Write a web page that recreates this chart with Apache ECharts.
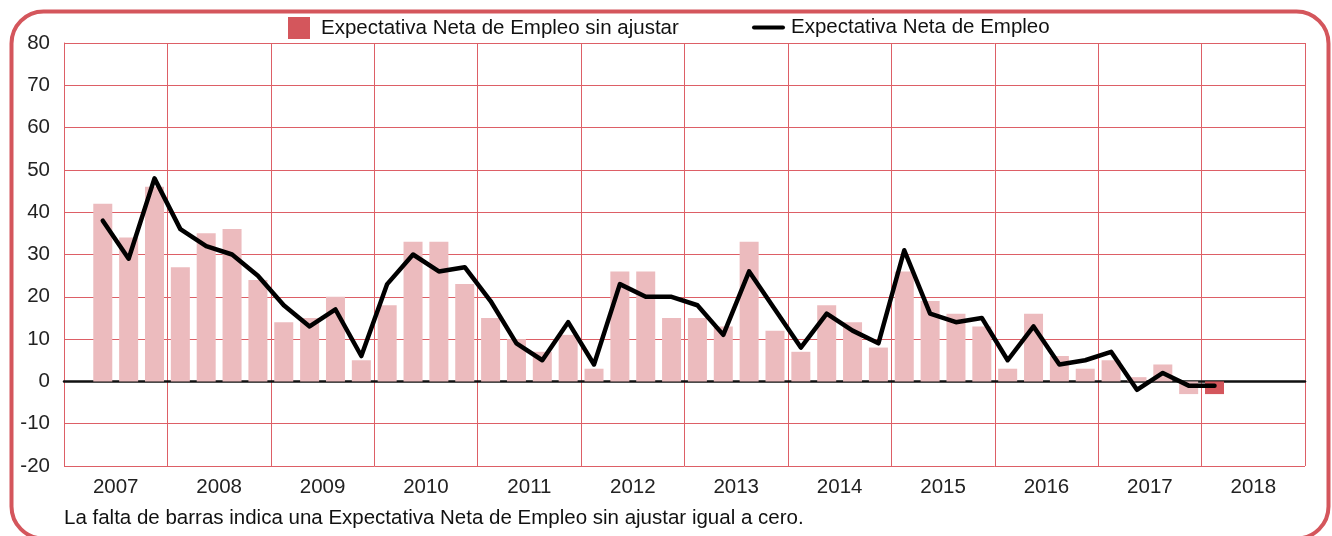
<!DOCTYPE html>
<html>
<head>
<meta charset="utf-8">
<script src="https://cdn.jsdelivr.net/npm/echarts@6/dist/echarts.min.js"></script>
<style>
  html, body { margin: 0; padding: 0; background: #fff; }
  #chart { width: 1332px; height: 536px; }
</style>
</head>
<body>
<div id="chart"></div>
<script>
// años del eje x
const years = ['2007', '2008', '2009', '2010', '2011', '2012', '2013', '2014', '2015', '2016', '2017', '2018']
// valores por trimestre (2007 T1 ... 2018 T4), null = sin dato
const sinAjustar = [
  null, 42, 34, 46,
  27, 35, 36, 24,
  14, 15, 20, 5,
  18, 33, 33, 23,
  15, 10, 7, 11,
  3, 26, 26, 15,
  15, 13, 33, 12,
  7, 18, 14, 8,
  26, 19, 16, 13,
  3, 16, 6, 3,
  5, 1, 4, -3,
  -3, null, null, null
]
const ajustada = [
  null, 38, 29, 48,
  36, 32, 30, 25,
  18, 13, 17, 6,
  23, 30, 26, 27,
  19, 9, 5, 14,
  4, 23, 20, 20,
  18, 11, 26, 17,
  8, 16, 12, 9,
  31, 16, 14, 15,
  5, 13, 4, 5,
  7, -2, 2, -1,
  -1, null, null, null
]
// etiquetas del eje y
const yTicks = [-20, -10, 0, 10, 20, 30, 40, 50, 60, 70, 80]

const quarters = []
years.forEach((y) => {
  for (let q = 1; q <= 4; q++) quarters.push(y + 'T' + q)
})

const RED = '#d4565c'
const PINK = '#ecbbbe'
const GRID = '#dd5f66'
const FONT = '"Liberation Sans", Arial, sans-serif'
const FS = 20.5

// último dato disponible resaltado en rojo
let lastIdx = 0
sinAjustar.forEach((v, i) => { if (v !== null) lastIdx = i })
const barData = sinAjustar.map((v, i) => {
  if (v === null) return '-'
  return { value: v, itemStyle: { color: i === lastIdx ? RED : PINK } }
})

const chart = echarts.init(document.getElementById('chart'))
const options = {
  animation: false,
  textStyle: { fontFamily: FONT },
  legend: [
    {
      left: 288,
      top: 17,
      padding: 0,
      itemWidth: 22,
      itemHeight: 22,
      itemGap: 10,
      selectedMode: false,
      icon: 'rect',
      textStyle: { fontSize: FS, color: '#111', fontFamily: FONT, padding: [0, 0, 0, 6] },
      data: ['Expectativa Neta de Empleo sin ajustar']
    },
    {
      left: 752,
      top: 17,
      padding: 0,
      itemWidth: 33,
      itemHeight: 22,
      selectedMode: false,
      textStyle: { fontSize: FS, color: '#111', fontFamily: FONT, padding: [0, 0, 0, 1] },
      // icono de línea gruesa sin marcador
      data: [{ name: 'Expectativa Neta de Empleo', icon: 'path://M2,9 L31,9 A2,2 0 0 1 31,13 L2,13 A2,2 0 0 1 2,9 Z' }],
      symbolKeepAspect: true
    }
  ],
  grid: {
    left: 64,
    right: 27,
    top: 43,
    bottom: 70,
    containLabel: false,
    outerBoundsMode: 'none'
  },
  xAxis: [
    {
      type: 'category',
      data: quarters,
      position: 'bottom',
      boundaryGap: true,
      axisLine: { show: true, onZero: true, lineStyle: { color: '#111', width: 2.5 } },
      axisTick: { show: false },
      axisLabel: { show: false },
      splitLine: { show: false }
    },
    {
      type: 'category',
      data: years,
      position: 'bottom',
      boundaryGap: true,
      axisLine: { show: false, onZero: false },
      axisTick: { show: false },
      axisLabel: { show: true, color: '#222', fontSize: FS, margin: 11, fontFamily: FONT },
      splitLine: { show: true, showMinLine: true, showMaxLine: true, lineStyle: { color: [GRID], width: 1 } }
    }
  ],
  yAxis: {
    type: 'value',
    min: yTicks[0],
    max: yTicks[yTicks.length - 1],
    interval: 10,
    axisLine: { show: true, lineStyle: { color: GRID, width: 1 } },
    axisTick: { show: false },
    axisLabel: { color: '#222', fontSize: FS, margin: 14, fontFamily: FONT },
    splitLine: { show: true, showMinLine: true, showMaxLine: true, lineStyle: { color: GRID, width: 1 } }
  },
  series: [
    {
      name: 'Expectativa Neta de Empleo sin ajustar',
      type: 'bar',
      xAxisIndex: 0,
      barWidth: 19,
      color: RED,
      data: barData,
      z: 2
    },
    {
      name: 'Expectativa Neta de Empleo',
      type: 'line',
      xAxisIndex: 0,
      data: ajustada,
      color: '#000',
      symbol: 'none',
      lineStyle: { color: '#000', width: 4.5, cap: 'round', join: 'round' },
      z: 4
    }
  ],
  graphic: [
    {
      type: 'rect',
      shape: { x: 11.5, y: 11.5, width: 1317, height: 527, r: 32 },
      style: { fill: 'none', stroke: RED, lineWidth: 4 },
      silent: true,
      z: 10
    },
    {
      type: 'text',
      left: 64,
      top: 508,
      style: {
        text: 'La falta de barras indica una Expectativa Neta de Empleo sin ajustar igual a cero.',
        fontSize: FS,
        fill: '#111',
        fontFamily: FONT
      }
    }
  ]
}
chart.setOption(options)
window.addEventListener('resize', function () {
  chart.resize()
})
</script>
</body>
</html>
